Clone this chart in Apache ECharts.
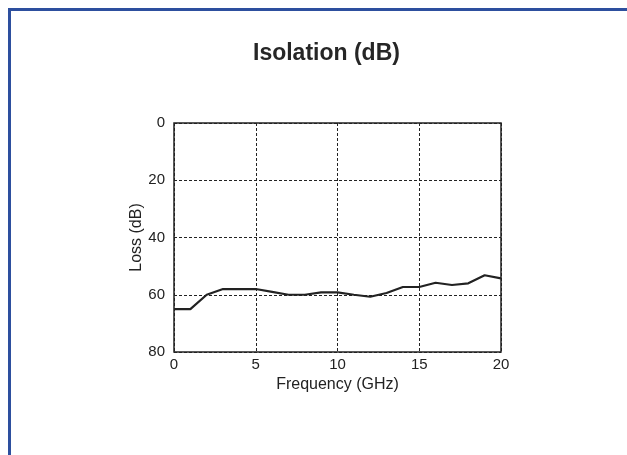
<!DOCTYPE html>
<html>
<head>
<meta charset="utf-8">
<style>
  html, body { margin: 0; padding: 0; background: #fff; }
  #frame { position: absolute; left: 8px; top: 8px; right: 0; bottom: 0;
           border-left: 3px solid #2d4f9e; border-top: 3px solid #2d4f9e; }
  #chart { position: absolute; left: 0; top: 0; width: 627px; height: 455px; }
</style>
<script src="https://cdn.jsdelivr.net/npm/echarts@6/dist/echarts.min.js"></script>
</head>
<body>
<div id="frame"></div>
<div id="chart"></div>
<script>
  // frequency points (GHz) and isolation loss (dB)
  const freqGHz = [0, 1, 2, 3, 4, 5, 6, 7, 8, 9, 10, 11, 12, 13, 14, 15, 16, 17, 18, 19, 20];
  const lossDb = [65, 65, 60, 58, 58, 58, 59, 60, 60, 59.2, 59.2, 60, 60.7, 59.4, 57.3, 57.3, 55.8, 56.6, 56, 53.2, 54.3];
  const xTicks = [0, 5, 10, 15, 20];
  const yTicks = [0, 20, 40, 60, 80];

  const font = '"Liberation Sans", Arial, Helvetica, sans-serif';
  const chart = echarts.init(document.getElementById('chart'), null, { renderer: 'canvas' });

  chart.setOption({
    animation: false,
    title: {
      text: 'Isolation (dB)',
      left: 248,
      top: 37,
      textStyle: { fontFamily: font, fontSize: 23, fontWeight: 'bold', color: '#262626' }
    },
    grid: { left: 174, top: 123, right: 126, bottom: 103, show: true, borderColor: '#222', borderWidth: 1.5 },
    xAxis: {
      type: 'value',
      min: xTicks[0], max: xTicks[xTicks.length - 1], interval: 5,
      name: 'Frequency (GHz)', nameLocation: 'middle', nameGap: 22,
      nameTextStyle: { fontFamily: font, fontSize: 16, color: '#222' },
      axisLine: { show: false }, axisTick: { show: false },
      axisLabel: { fontFamily: font, fontSize: 15, color: '#222', margin: 5 },
      splitLine: { show: true, lineStyle: { color: '#222', type: [3, 2], width: 1 } }
    },
    yAxis: {
      type: 'value', inverse: true,
      min: yTicks[0], max: yTicks[yTicks.length - 1], interval: 20,
      name: 'Loss (dB)', nameLocation: 'middle', nameGap: 29, nameMoveOverlap: false,
      nameTextStyle: { fontFamily: font, fontSize: 16, color: '#222' },
      axisLine: { show: false }, axisTick: { show: false },
      axisLabel: { fontFamily: font, fontSize: 15, color: '#222', margin: 9 },
      splitLine: { show: true, lineStyle: { color: '#222', type: [3, 2], width: 1 } }
    },
    series: [{
      type: 'line',
      data: freqGHz.map((f, i) => [f, lossDb[i]]),
      showSymbol: false,
      lineStyle: { color: '#222', width: 2.2 }
    }]
  });
</script>
</body>
</html>
